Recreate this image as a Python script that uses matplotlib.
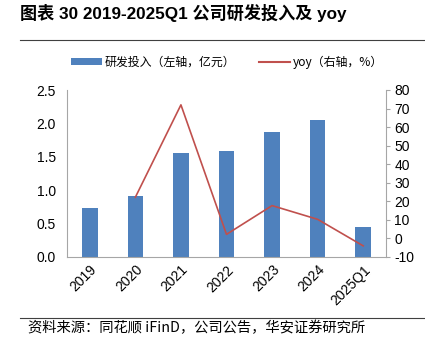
import matplotlib
matplotlib.use("Agg")
import matplotlib.pyplot as plt
import numpy as np
from matplotlib.lines import Line2D
from matplotlib.patches import Patch

categories = ["2019", "2020", "2021", "2022", "2023", "2024", "2025Q1"]
rd_spend = [0.74, 0.91, 1.56, 1.59, 1.87, 2.05, 0.45]
yoy = [np.nan, 22.2, 72.0, 2.2, 17.7, 10.3, -4.0]

FAM = ["Liberation Sans", "Noto Sans CJK SC", "DejaVu Sans"]
CJK = ["Noto Sans CJK SC", "Liberation Sans", "DejaVu Sans"]
plt.rcParams["font.family"] = FAM

BAR = "#4F81BD"
LINE = "#C0504D"
GREY = "#A6A6A6"

fig = plt.figure(figsize=(4.25, 3.45), dpi=100)
ax = fig.add_axes([67/425, 1-257/345, (386-67)/425, (257-90)/345])
x = np.arange(len(categories))
ax.bar(x, rd_spend, width=0.34, color=BAR, zorder=2)
ax.set_xlim(-0.5, len(categories)-0.5)
ax.set_ylim(0, 2.5)
ax.set_yticks(np.arange(0, 2.51, 0.5))
ax.set_yticklabels([f"{v:.1f}" for v in np.arange(0, 2.51, 0.5)], fontsize=10)
ax.set_xticks(x)
ax.set_xticklabels(categories, rotation=45, ha="right", rotation_mode="anchor", fontsize=10)
ax.tick_params(axis="x", length=0, pad=4)
ax.tick_params(axis="y", length=0, pad=8)
for s in ["top", "right"]:
    ax.spines[s].set_visible(False)
for s in ["left", "bottom"]:
    ax.spines[s].set_color(GREY)
    ax.spines[s].set_linewidth(0.8)

ax2 = ax.twinx()
ax2.plot(x, yoy, color=LINE, lw=1.2, zorder=3)
ax2.set_ylim(-10, 80)
ax2.set_yticks(np.arange(-10, 81, 10))
ax2.set_yticklabels([str(v) for v in range(-10, 81, 10)], fontsize=10)
ax2.tick_params(axis="y", length=3, color=GREY, pad=3)
for s in ["top", "left", "bottom"]:
    ax2.spines[s].set_visible(False)
ax2.spines["right"].set_color(GREY)
ax2.spines["right"].set_linewidth(0.8)

fig.text(20/425, 1-13/345, "图表 30 2019-2025Q1 公司研发投入及 yoy", fontsize=12.3,
         fontweight="bold", va="center", ha="left", family=FAM)
fig.add_artist(Line2D([20/425, 1], [1-40/345, 1-40/345], color="#404040", lw=0.8))
fig.add_artist(Line2D([20/425, 1], [1-318/345, 1-318/345], color="#404040", lw=0.8))

handles = [Patch(facecolor=BAR, edgecolor="none"), Line2D([0], [0], color=LINE, lw=1.5)]
labels = ["研发投入（左轴，亿元）", "yoy（右轴，%）"]
fig.legend(handles, labels, loc="center", bbox_to_anchor=(227/425, 1-62/345), ncol=2,
           frameon=False, prop={"family": CJK, "size": 8.6}, handlelength=2.6,
           handleheight=0.5, handletextpad=0.2, columnspacing=2.0)

fig.text(28/425, 1-328/345, "资料来源：同花顺 iFinD，公司公告，华安证券研究所", fontsize=10.3,
         va="center", ha="left", family=CJK)

fig.savefig("out.png", dpi=100)
